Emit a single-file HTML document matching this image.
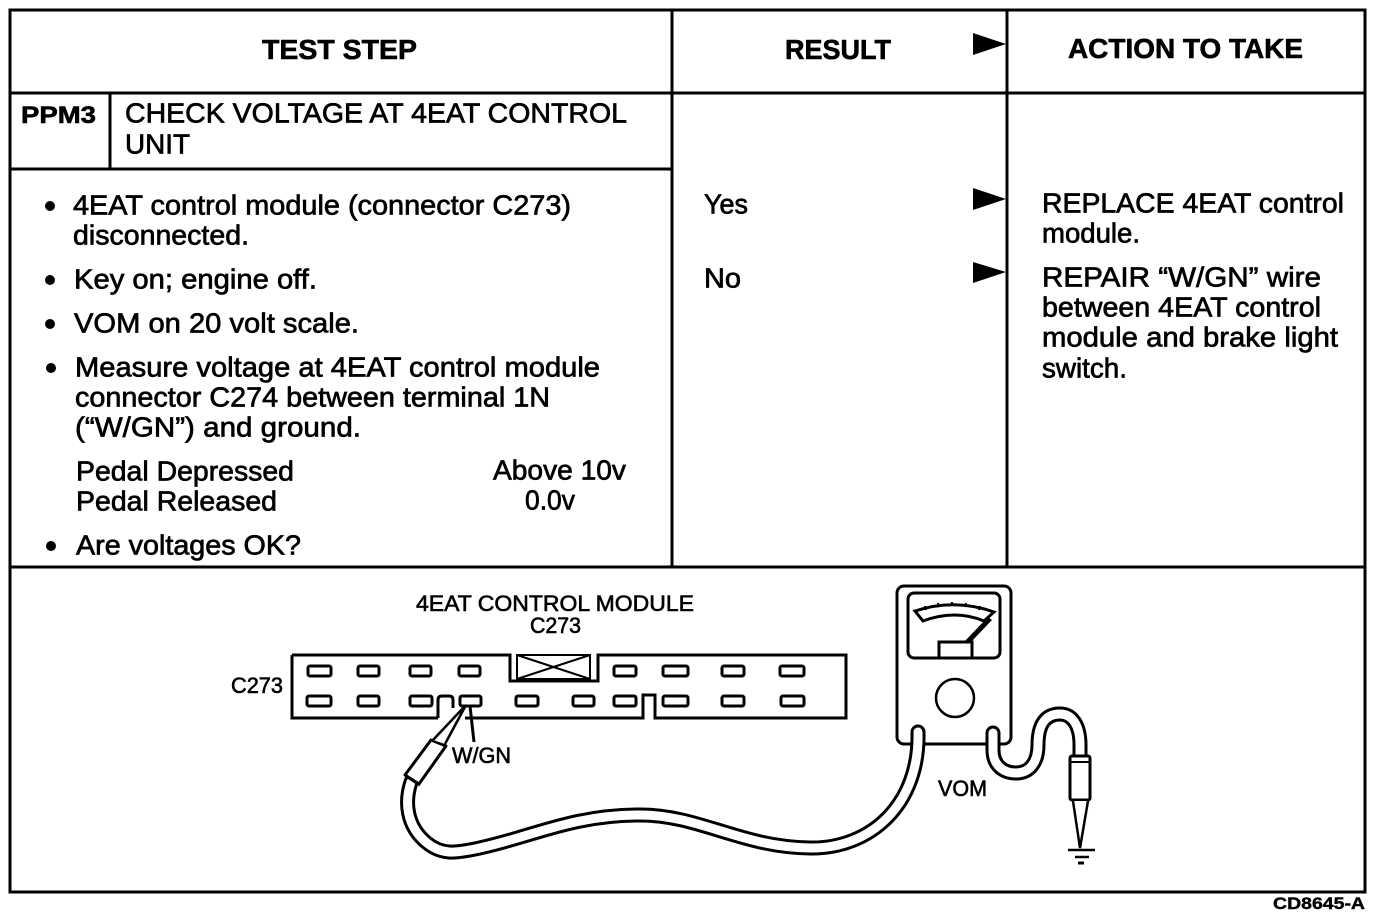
<!DOCTYPE html>
<html><head><meta charset="utf-8"><style>
html,body{margin:0;padding:0;background:#fff;width:1376px;height:916px;overflow:hidden}
svg{display:block}
text{font-family:"Liberation Sans",sans-serif;fill:#000}
.t{font-size:28px;stroke:#000;stroke-width:.7}
.h{font-size:28px;font-weight:bold;stroke:#000;stroke-width:.6}
.d{font-size:22px;stroke:#000;stroke-width:.6}
.l{stroke:#000;stroke-width:3;fill:none}
.s{fill:#fff;stroke:#000;stroke-width:3}
</style></head><body>
<svg width="1376" height="916" viewBox="0 0 1376 916" xmlns="http://www.w3.org/2000/svg">
<rect x="10" y="10" width="1355" height="882" fill="none" stroke="#000" stroke-width="3"/>
<path d="M10 93H1365M672 10V567M1007 10V567M10 169H672M110 93V169M10 567H1365" fill="none" stroke="#000" stroke-width="3"/>
<path d="M973 33L1006 44L973 55ZM973 188L1006 199L973 210ZM973 262L1006 272L973 283Z" fill="#000"/>
<text class="h" x="262" y="59" textLength="155" lengthAdjust="spacingAndGlyphs">TEST STEP</text>
<text class="h" x="785" y="59" textLength="106" lengthAdjust="spacingAndGlyphs">RESULT</text>
<text class="h" x="1068" y="58" textLength="235" lengthAdjust="spacingAndGlyphs">ACTION TO TAKE</text>
<text class="h" x="21" y="123" textLength="75" lengthAdjust="spacingAndGlyphs" style="font-size:24px">PPM3</text>
<g fill="#000"><circle cx="50" cy="206" r="5"/><circle cx="50" cy="280" r="5"/><circle cx="50" cy="324" r="5"/><circle cx="51" cy="368" r="5"/><circle cx="51" cy="546" r="5"/></g>
<g transform="translate(0,0.7)">
<text class="t" x="125" y="122" textLength="502" lengthAdjust="spacingAndGlyphs">CHECK VOLTAGE AT 4EAT CONTROL</text>
<text class="t" x="125" y="153" textLength="65" lengthAdjust="spacingAndGlyphs">UNIT</text>
<text class="t" x="73" y="214" textLength="498" lengthAdjust="spacingAndGlyphs">4EAT control module (connector C273)</text>
<text class="t" x="73" y="244" textLength="176" lengthAdjust="spacingAndGlyphs">disconnected.</text>
<text class="t" x="74" y="288" textLength="243" lengthAdjust="spacingAndGlyphs">Key on; engine off.</text>
<text class="t" x="74" y="332" textLength="285" lengthAdjust="spacingAndGlyphs">VOM on 20 volt scale.</text>
<text class="t" x="75" y="376" textLength="525" lengthAdjust="spacingAndGlyphs">Measure voltage at 4EAT control module</text>
<text class="t" x="75" y="406" textLength="475" lengthAdjust="spacingAndGlyphs">connector C274 between terminal 1N</text>
<text class="t" x="75" y="436" textLength="286" lengthAdjust="spacingAndGlyphs">(“W/GN”) and ground.</text>
<text class="t" x="76" y="480" textLength="218" lengthAdjust="spacingAndGlyphs">Pedal Depressed</text>
<text class="t" x="493" y="479" textLength="133" lengthAdjust="spacingAndGlyphs">Above 10v</text>
<text class="t" x="76" y="510" textLength="201" lengthAdjust="spacingAndGlyphs">Pedal Released</text>
<text class="t" x="525" y="509" textLength="50" lengthAdjust="spacingAndGlyphs">0.0v</text>
<text class="t" x="76" y="554" textLength="225" lengthAdjust="spacingAndGlyphs">Are voltages OK?</text>
<text class="t" x="704" y="213" textLength="44" lengthAdjust="spacingAndGlyphs">Yes</text>
<text class="t" x="704" y="287" textLength="37" lengthAdjust="spacingAndGlyphs">No</text>
<text class="t" x="1042" y="212" textLength="302" lengthAdjust="spacingAndGlyphs">REPLACE 4EAT control</text>
<text class="t" x="1042" y="242" textLength="98" lengthAdjust="spacingAndGlyphs">module.</text>
<text class="t" x="1042" y="286" textLength="279" lengthAdjust="spacingAndGlyphs">REPAIR “W/GN” wire</text>
<text class="t" x="1042" y="316" textLength="279" lengthAdjust="spacingAndGlyphs">between 4EAT control</text>
<text class="t" x="1042" y="346" textLength="296" lengthAdjust="spacingAndGlyphs">module and brake light</text>
<text class="t" x="1042" y="377" textLength="85" lengthAdjust="spacingAndGlyphs">switch.</text>
</g>

<text class="d" x="416" y="611" textLength="278" lengthAdjust="spacingAndGlyphs">4EAT CONTROL MODULE</text>
<text class="d" x="530" y="633" textLength="51" lengthAdjust="spacingAndGlyphs">C273</text>
<text class="d" x="231" y="693" textLength="52" lengthAdjust="spacingAndGlyphs">C273</text>
<text class="d" x="452" y="763" textLength="59" lengthAdjust="spacingAndGlyphs">W/GN</text>
<text class="d" x="938" y="796" textLength="49" lengthAdjust="spacingAndGlyphs">VOM</text>
<text x="1273" y="909" textLength="92" lengthAdjust="spacingAndGlyphs" style="font-size:17px;font-weight:bold;stroke:#000;stroke-width:.4">CD8645-A</text>

<!-- connector -->
<path class="l" d="M292 655H510V681H598V655H846V718H655V695H643V718H465M438 718H292V655M438 718V700Q438 696 442 696H449Q453 696 453 700V708"/>
<path class="l" d="M517 655H590V679H517ZM517 679L590 655M517 655L590 679" style="stroke-width:2"/>
<g class="s">
<rect x="308" y="666" width="23" height="10" rx="2"/><rect x="358" y="666" width="21" height="10" rx="2"/><rect x="410" y="666" width="21" height="10" rx="2"/><rect x="459" y="666" width="21" height="10" rx="2"/>
<rect x="614" y="666" width="22" height="10" rx="2"/><rect x="663" y="666" width="25" height="10" rx="2"/><rect x="722" y="666" width="22" height="10" rx="2"/><rect x="780" y="666" width="24" height="10" rx="2"/>
<rect x="307" y="696" width="24" height="10" rx="2"/><rect x="358" y="696" width="21" height="10" rx="2"/><rect x="410" y="696" width="22" height="10" rx="2"/><rect x="460" y="696" width="21" height="10" rx="2"/>
<rect x="516" y="696" width="22" height="10" rx="2"/><rect x="573" y="696" width="21" height="10" rx="2"/><rect x="614" y="696" width="22" height="10" rx="2"/><rect x="663" y="696" width="25" height="10" rx="2"/><rect x="722" y="696" width="22" height="10" rx="2"/><rect x="781" y="696" width="23" height="10" rx="2"/>
</g>

<!-- meter -->
<rect x="897" y="586" width="114" height="158" rx="7" fill="#fff" stroke="#000" stroke-width="3"/>
<rect x="908" y="593" width="92" height="65" rx="6" fill="#fff" stroke="#000" stroke-width="3"/>
<path class="l" d="M915 611Q955 598 994 612L984 621Q955 609 923 621Z"/>
<path d="M925 606l1 4M938 603l1 4M952 602v4M966 603l-1 4M980 606l-1 4" stroke="#000" stroke-width="2"/>
<path class="l" d="M939 657V642H972V657"/>
<path d="M964 642L988 617L992 620L971 642Z" fill="#000"/>
<circle cx="955" cy="698" r="19" fill="#fff" stroke="#000" stroke-width="2.5"/>

<!-- cables -->
<path d="M411 782C405 800 405 825 427 843C442 855 455 853 475 849C530 838 570 815 640 815C700 815 740 847 810 848C870 849 920 805 918 732" fill="none" stroke="#000" stroke-width="15" stroke-linecap="round"/>
<path d="M411 782C405 800 405 825 427 843C442 855 455 853 475 849C530 838 570 815 640 815C700 815 740 847 810 848C870 849 920 805 918 732" fill="none" stroke="#fff" stroke-width="9" stroke-linecap="round"/>
<path d="M993 733V750C993 765 1003 773 1016 773C1030 773 1038 762 1038 745C1038 725 1045 714 1060 714C1072 714 1080 725 1080 745V760" fill="none" stroke="#000" stroke-width="15" stroke-linecap="round"/>
<path d="M993 733V750C993 765 1003 773 1016 773C1030 773 1038 762 1038 745C1038 725 1045 714 1060 714C1072 714 1080 725 1080 745V760" fill="none" stroke="#fff" stroke-width="9" stroke-linecap="round"/>

<!-- probes -->
<path d="M405 775L431 740L446 746L419 784Z" fill="#fff" stroke="#000" stroke-width="3" stroke-linejoin="round"/>
<path d="M433 740L466 705L445 744" fill="#fff" stroke="#000" stroke-width="2.5"/>
<path d="M406 776L420 785" stroke="#000" stroke-width="3"/>
<path d="M470 706L474 742" stroke="#000" stroke-width="3"/>
<rect x="1070" y="756" width="20" height="44" rx="2" fill="#fff" stroke="#000" stroke-width="3"/>
<path d="M1070 762H1090" stroke="#000" stroke-width="2"/>
<path d="M1073 801L1080 848L1088 801" fill="#fff" stroke="#000" stroke-width="2.5"/>
<path d="M1068 850H1095" stroke="#000" stroke-width="2.5"/>
<path d="M1075 857H1089" stroke="#000" stroke-width="2.5"/>
<path d="M1078 863H1084" stroke="#000" stroke-width="3"/>
</svg>
</body></html>
